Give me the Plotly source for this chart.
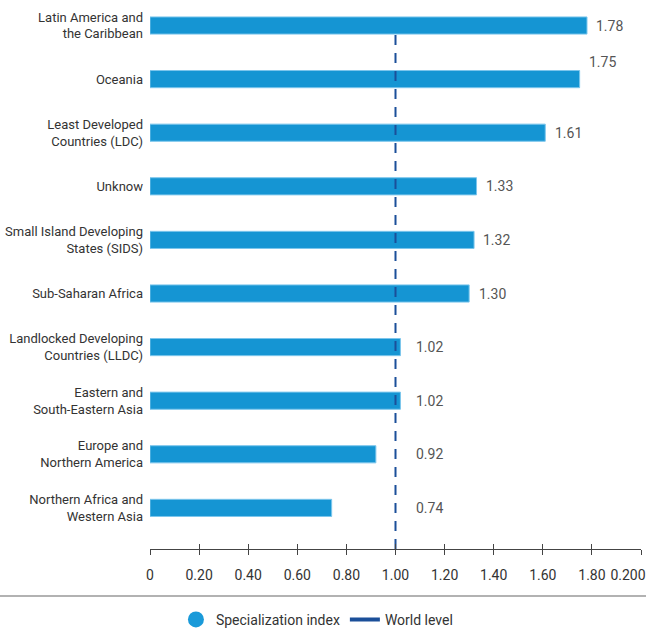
import plotly.graph_objects as go

categories = [
    "Latin America and<br>the Caribbean",
    "Oceania",
    "Least Developed<br>Countries (LDC)",
    "Unknow",
    "Small Island Developing<br>States (SIDS)",
    "Sub-Saharan Africa",
    "Landlocked Developing<br>Countries (LLDC)",
    "Eastern and<br>South-Eastern Asia",
    "Europe and<br>Northern America",
    "Northern Africa and<br>Western Asia",
]
values = [1.78, 1.75, 1.61, 1.33, 1.32, 1.30, 1.02, 1.02, 0.92, 0.74]
value_labels = ["1.78", "1.75", "1.61", "1.33", "1.32", "1.30", "1.02", "1.02", "0.92", "0.74"]
world_level = 1.0
tick_values = [0, 0.2, 0.4, 0.6, 0.8, 1.0, 1.2, 1.4, 1.6, 1.8, 2.0]
tick_labels = ["0", "0.20", "0.40", "0.60", "0.80", "1.00", "1.20", "1.40", "1.60", "1.80", ""]
last_tick_value = [2.0]
last_tick_label = ["0.200"]

FONT = "Roboto, Liberation Sans, sans-serif"
BAR = "#1595d3"
NAVY = "#1b4f99"

fig = go.Figure()
fig.add_trace(go.Bar(
    y=categories, x=values, orientation="h",
    marker=dict(color=BAR, line=dict(color="#7cc6ec", width=1)),
    width=0.32, showlegend=False, hoverinfo="x+y",
))
fig.add_trace(go.Scatter(
    x=[world_level, world_level], y=[0, 0.949], yaxis="y2", mode="lines",
    line=dict(color=NAVY, width=2, dash="10px,8px"), showlegend=False,
))
# legend entries
fig.add_trace(go.Scatter(x=[None], y=[None], mode="markers", name="Specialization index",
                         marker=dict(symbol="circle", size=20, color="#1a9ad9")))
fig.add_trace(go.Scatter(x=[None], y=[None], mode="lines", name="World level",
                         line=dict(color=NAVY, width=4)))
# invisible traces so the overlaid tick axes are drawn
fig.add_trace(go.Scatter(x=[world_level], y=[0.5], xaxis="x2", yaxis="y2", mode="markers",
                         marker=dict(opacity=0), showlegend=False, hoverinfo="skip"))
fig.add_trace(go.Scatter(x=[world_level], y=[0.5], xaxis="x3", yaxis="y2", mode="markers",
                         marker=dict(opacity=0), showlegend=False, hoverinfo="skip"))

annotations = []
for i, (v, t) in enumerate(zip(values, value_labels)):
    lx = max(v + 0.03, world_level + 0.075)
    ys = 17 if i == 1 else 0
    annotations.append(dict(x=lx, y=categories[i], text=t, showarrow=False, xanchor="left",
                            yanchor="middle", yshift=ys,
                            font=dict(family=FONT, size=14, color="#555555")))

plot_w = 491
plot_h = 549
tick_common = dict(range=[0, 2.0], automargin=False, showgrid=False, zeroline=False)
fig.update_layout(
    template="none",
    width=646, height=637,
    margin=dict(l=150, r=5, t=0, b=88),
    paper_bgcolor="white", plot_bgcolor="white",
    font=dict(family=FONT, size=13, color="#333333"),
    bargap=0.68,
    xaxis=dict(**tick_common, tickvals=tick_values, ticktext=tick_labels,
               showline=True, linecolor="#444444", linewidth=1,
               ticks="outside", ticklen=5, tickcolor="#444444", tickwidth=1,
               ticklabelstandoff=8, tickfont=dict(size=14, color="#333333")),
    xaxis2=dict(**tick_common, tickvals=tick_values, overlaying="x", side="bottom", anchor="y2",
                showline=False, showticklabels=False,
                ticks="inside", ticklen=5, tickcolor="#444444", tickwidth=1),
    xaxis3=dict(**tick_common, tickvals=last_tick_value, ticktext=last_tick_label,
                overlaying="x", side="bottom", anchor="y2", showline=False, ticks="outside",
                ticklen=5, tickcolor="rgba(0,0,0,0)", ticklabelstandoff=8,
                ticklabelshift=-13, ticklabeloverflow="allow",
                tickfont=dict(size=14, color="#333333")),
    yaxis=dict(range=[9.767, -0.476], showgrid=False, zeroline=False, showline=False,
               automargin=False, ticks="", ticklabelstandoff=6,
               tickfont=dict(size=13, color="#333333")),
    yaxis2=dict(range=[0, 1], overlaying="y", showgrid=False, zeroline=False, showline=False,
                showticklabels=False, ticks="", automargin=False),
    legend=dict(orientation="h", x=0.34, xanchor="center", y=-0.129, yanchor="middle",
                font=dict(size=14, color="#333333"), itemwidth=30, tracegroupgap=0,
                bgcolor="rgba(0,0,0,0)"),
    annotations=annotations,
    shapes=[dict(type="line", xref="paper", yref="paper",
                 x0=-150 / plot_w, x1=1 + 5 / plot_w, y0=-47 / plot_h, y1=-47 / plot_h,
                 line=dict(color="#999999", width=1.5))],
)

fig.write_html("out.html", config={"displayModeBar": False},
               post_script="document.body.style.margin='0';document.body.style.overflow='hidden';")
